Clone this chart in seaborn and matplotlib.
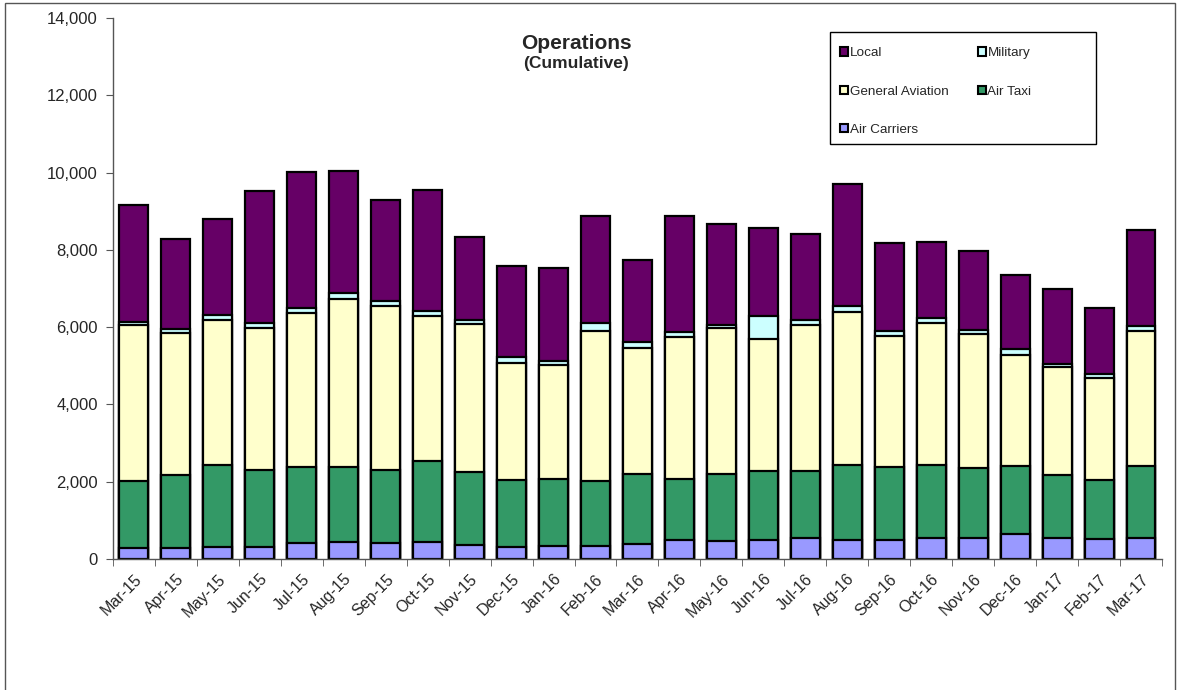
import numpy as np
import pandas as pd
import seaborn as sns
import matplotlib.pyplot as plt
from matplotlib.patches import Rectangle, Patch

sns.set_style("ticks")
plt.rcParams['font.family'] = ['Liberation Sans', 'DejaVu Sans']

# Monthly operations by category
months = ['Mar-15', 'Apr-15', 'May-15', 'Jun-15', 'Jul-15', 'Aug-15', 'Sep-15', 'Oct-15',
          'Nov-15', 'Dec-15', 'Jan-16', 'Feb-16', 'Mar-16', 'Apr-16', 'May-16', 'Jun-16',
          'Jul-16', 'Aug-16', 'Sep-16', 'Oct-16', 'Nov-16', 'Dec-16', 'Jan-17', 'Feb-17', 'Mar-17']
air_carriers = [277, 277, 320, 320, 406, 432, 406, 449, 363, 320, 346, 346, 380,
                484, 467, 493, 553, 493, 493, 553, 536, 640, 536, 519, 553]
air_taxi = [1745, 1901, 2117, 1970, 1962, 1936, 1884, 2092, 1884, 1711, 1728, 1676, 1824,
            1573, 1728, 1789, 1711, 1944, 1875, 1884, 1815, 1754, 1642, 1529, 1841]
general_aviation = [4028, 3665, 3734, 3674, 3985, 4348, 4261, 3751, 3838, 3042, 2956, 3864, 3258,
                    3691, 3769, 3422, 3803, 3950, 3414, 3674, 3474, 2896, 2783, 2636, 3492]
military = [80, 110, 145, 135, 135, 170, 130, 125, 95, 145, 95, 220, 160,
            135, 95, 575, 120, 160, 125, 120, 105, 145, 85, 95, 145]
local = [3025, 2333, 2471, 3431, 3526, 3163, 2619, 3121, 2144, 2351, 2394, 2757, 2109,
         2982, 2611, 2273, 2221, 3155, 2273, 1971, 2031, 1902, 1928, 1711, 2490]

df = pd.DataFrame({'Month': months, 'Air Carriers': air_carriers, 'Air Taxi': air_taxi,
                   'General Aviation': general_aviation, 'Military': military, 'Local': local})

# stack order bottom -> top, with colours
series = ['Air Carriers', 'Air Taxi', 'General Aviation', 'Military', 'Local']
colors = {'Air Carriers': '#9999FF', 'Air Taxi': '#339966', 'General Aviation': '#FFFFCC',
          'Military': '#CCFFFF', 'Local': '#660066'}

cum = df[series].cumsum(axis=1)
cum['Month'] = df['Month']

fig = plt.figure(figsize=(11.78, 6.9), dpi=100)
ax = fig.add_axes([0.0959, 0.19, 0.8905, 0.7839])

# draw cumulative totals from the top down so each layer shows
for s in reversed(series):
    sns.barplot(data=cum, x='Month', y=s, color=colors[s], width=0.69,
                edgecolor='black', linewidth=1.6, saturation=1, ax=ax, zorder=2)

ax.set_ylim(0, 14000)
ax.set_xlim(-0.5, len(months) - 0.5)
ax.set_yticks(range(0, 14001, 2000))
ax.set_yticklabels([f'{v:,}' for v in range(0, 14001, 2000)], fontsize=12)
ax.set_xlabel('')
ax.set_ylabel('')

# category labels at centers, tick marks at boundaries
ax.set_xticks(range(len(months)))
ax.set_xticklabels(months, rotation=45, ha='right', rotation_mode='anchor', fontsize=11.5)
ax.tick_params(axis='x', which='major', length=0, pad=9)
ax.set_xticks(np.arange(-0.5, len(months), 1), minor=True)
ax.tick_params(axis='x', which='minor', length=5, color='#555555', direction='out')
ax.tick_params(axis='y', length=5, color='#555555', direction='out', pad=6)

sns.despine(ax=ax)
for sp in ['left', 'bottom']:
    ax.spines[sp].set_color('#555555')
    ax.spines[sp].set_linewidth(1)

fig.text(0.489, 0.937, 'Operations', ha='center', va='center', fontsize=15, fontweight='bold')
fig.text(0.489, 0.908, '(Cumulative)', ha='center', va='center', fontsize=12.5, fontweight='bold')

# legend (frame drawn separately to match the wide box)
legend_order = ['Local', 'General Aviation', 'Air Carriers', 'Military', 'Air Taxi']
handles = [Patch(facecolor=colors[s], edgecolor='black', linewidth=1.5, label=s) for s in legend_order]
leg = fig.legend(handles=handles, ncol=2, loc='upper left',
                 bbox_to_anchor=(820 / 1178, 1 - 27 / 690),
                 frameon=False, fontsize=9.7,
                 handlelength=0.6, handleheight=0.6, handletextpad=0.1,
                 columnspacing=2.2, labelspacing=1.95, borderpad=1.0)
fig.patches.append(Rectangle((830 / 1178, 1 - 144 / 690), 266 / 1178, 112 / 690,
                             transform=fig.transFigure, fill=False, edgecolor='black',
                             linewidth=1))

# outer chart border
fig.patches.append(Rectangle((5 / 1178, -0.01), 1170 / 1178, 1.01 - 3 / 690,
                             transform=fig.transFigure, fill=False, edgecolor='#555555',
                             linewidth=1))

fig.savefig('out.png', dpi=100)
